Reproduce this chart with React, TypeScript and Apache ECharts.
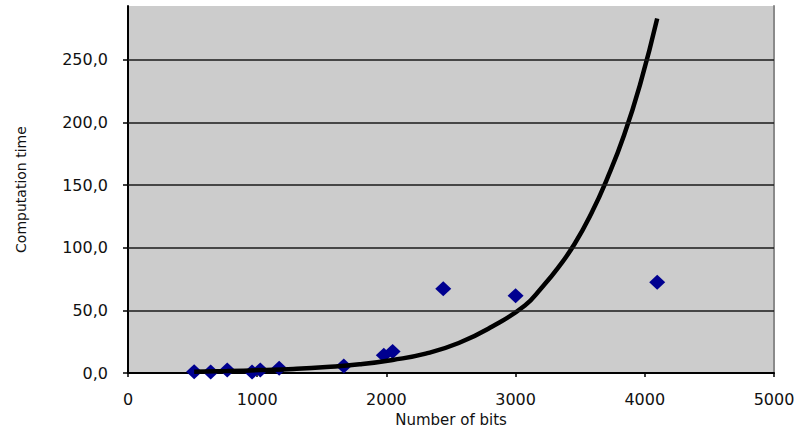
import React, { useEffect, useRef } from 'react';
import * as echarts from 'echarts';

const pointBits = [512, 640, 768, 960, 1024, 1170, 1670, 1980, 2048, 2440, 3000, 4096];
const pointTime = [1.0, 0.8, 2.5, 0.8, 2.5, 3.8, 5.7, 14.3, 17.2, 67.3, 61.8, 72.5];
const trendBits = [512, 768, 1024, 1280, 1536, 1792, 2048, 2304, 2560, 2816, 3072, 3200, 3328, 3456, 3584, 3712, 3840, 3968, 4096];
const trendTime = [1.0, 1.6, 2.4, 3.3, 4.8, 7.0, 10.5, 15.5, 24, 37, 54, 68, 84, 103, 127, 156, 190, 232, 283];
const xTicks = [0, 1000, 2000, 3000, 4000, 5000];
const yTicks = [0, 50, 100, 150, 200, 250];
const yMax = 293;
const xName = 'Number of bits';
const yName = 'Computation time';

export default function App() {
  const ref = useRef<HTMLDivElement>(null);
  useEffect(() => {
    if (!ref.current) return;
    const chart = echarts.init(ref.current, null, { renderer: 'svg' });
    const font = 'DejaVu Sans';
    chart.setOption({
      animation: false,
      backgroundColor: '#ffffff',
      grid: {
        left: 128,
        right: 26,
        top: 6,
        bottom: 52,
        show: true,
        backgroundColor: '#cccccc',
        borderWidth: 0,
      },
      xAxis: {
        type: 'value',
        min: xTicks[0],
        max: xTicks[xTicks.length - 1],
        interval: 1000,
        name: xName,
        nameLocation: 'middle',
        nameGap: 37,
        nameTextStyle: { fontFamily: font, fontSize: 15, color: '#111' },
        axisLine: { show: true, onZero: false, lineStyle: { color: '#000', width: 2 } },
        axisTick: { show: true, inside: false, length: 4, lineStyle: { color: '#000', width: 1.5 } },
        axisLabel: {
          fontFamily: font,
          fontSize: 16,
          color: '#111',
          margin: 18,
          formatter: (v: number) => String(v),
        },
        splitLine: { show: false },
      },
      yAxis: [
        {
          type: 'value',
          min: 0,
          max: yMax,
          interval: 50,
          name: yName,
          nameLocation: 'middle',
          nameGap: 100,
          nameTextStyle: { fontFamily: font, fontSize: 14, color: '#111' },
          axisLine: { show: true, lineStyle: { color: '#000', width: 2 } },
          axisTick: { show: true, length: 5, customValues: yTicks, lineStyle: { color: '#000', width: 1.5 } },
          axisLabel: {
            fontFamily: font,
            fontSize: 16,
            color: '#111',
            margin: 20,
            customValues: yTicks,
            formatter: (v: number) => v.toFixed(1).replace('.', ','),
          },
          splitLine: { show: false },
        },
        {
          type: 'value',
          position: 'right',
          min: 0,
          max: yMax,
          axisLine: { show: true, lineStyle: { color: '#8a8a8a', width: 2 } },
          axisTick: { show: false },
          axisLabel: { show: false },
          splitLine: { show: false },
        },
      ],
      series: [
        {
          type: 'scatter',
          data: pointBits.map((b, i) => [b, pointTime[i]]),
          symbol: 'diamond',
          symbolSize: [16, 15],
          itemStyle: { color: '#000090', opacity: 1 },
          markLine: {
            silent: true,
            symbol: 'none',
            label: { show: false },
            lineStyle: { color: '#1a1a1a', width: 1.5, type: 'solid' },
            data: yTicks.filter((v) => v > 0).map((v) => ({ yAxis: v })),
          },
          z: 2,
        },
        {
          type: 'line',
          data: trendBits.map((b, i) => [b, trendTime[i]]),
          smooth: true,
          showSymbol: false,
          lineStyle: { color: '#000', width: 4.5 },
          z: 3,
        },
      ],
    });
    return () => chart.dispose();
  }, []);
  return <div ref={ref} style={{ position: 'fixed', left: 0, top: 0, width: 800, height: 432 }} />;
}
